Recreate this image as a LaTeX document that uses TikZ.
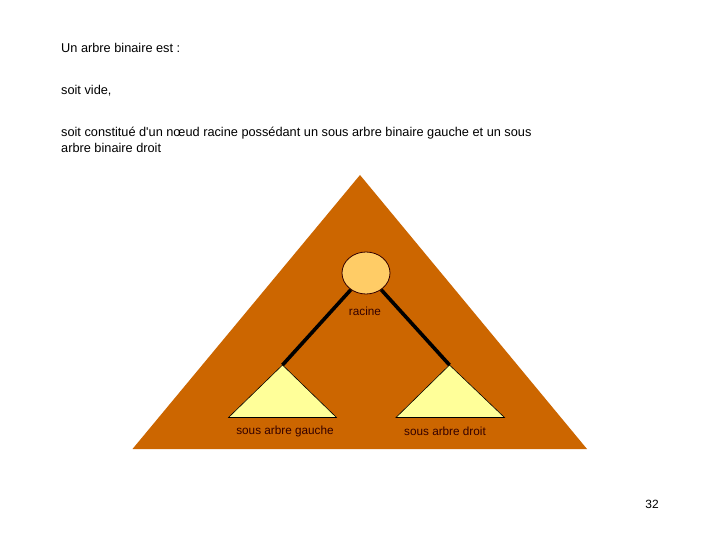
\documentclass[tikz,border=0pt]{standalone}
\usepackage{fontspec}
\setmainfont{Liberation Sans}
\usetikzlibrary{shapes.geometric}
\definecolor{brownbg}{HTML}{CC6600}
\definecolor{rootfill}{HTML}{FFCC66}
\definecolor{subfill}{HTML}{FFFF99}
\definecolor{labeltext}{HTML}{330000}
\tikzset{
  bodytext/.style={anchor=base west, inner sep=0pt, font=\fontsize{12.8}{15}\selectfont},
  smalllabel/.style={inner sep=0pt, font=\fontsize{11.8}{13}\selectfont, text=labeltext},
  subtree/.style={fill=subfill, draw=black, line width=0.6bp, line join=miter},
  edge/.style={draw=black, line width=3.6bp},
  rootnode/.style={ellipse, fill=rootfill, draw=labeltext, line width=0.8bp, minimum width=48bp, minimum height=42bp, inner sep=0pt}
}
\begin{document}
\begin{tikzpicture}[x=1bp,y=-1bp]
\useasboundingbox (0,0) rectangle (720,540);
\fill[white] (0,0) rectangle (720,540);

\node[bodytext] (t1) at (61,53) {Un arbre binaire est :};
\node[bodytext] (t2) at (61,95) {soit vide,};
\node[bodytext] (t3) at (61,137) {soit constitué d\textquotesingle un nœud racine possédant un sous arbre binaire gauche et un sous};
\node[bodytext] (t4) at (61,152.5) {arbre binaire droit};

% big triangle
\fill[brownbg] (360,175) -- (587,449) -- (132.5,449) -- cycle;

% root
\node[rootnode] (root) at (366,273) {};
\node[smalllabel] (lroot) at (365,311) {racine};

% subtrees
\coordinate (la) at (282.5,365);
\coordinate (ra) at (449.5,365);
\path[subtree] (la) -- (336.5,417.5) -- (228.5,417.5) -- cycle;
\path[subtree] (ra) -- (504.5,417.5) -- (396,417.5) -- cycle;
\node[smalllabel] (lleft) at (285,431) {sous arbre gauche};
\node[smalllabel] (lright) at (445,431) {sous arbre droit};

% edges
\draw[edge] (root) -- (la);
\draw[edge] (root) -- (ra);

\node[inner sep=0pt, font=\fontsize{12}{14}\selectfont] (pg) at (652,504) {32};
\end{tikzpicture}
\end{document}
